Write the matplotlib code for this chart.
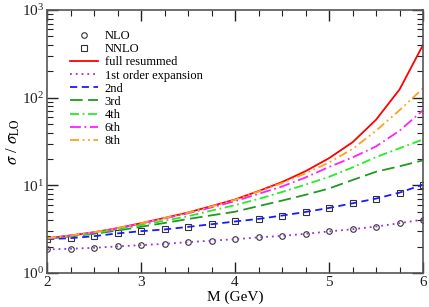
import matplotlib
matplotlib.use("Agg")
import matplotlib.pyplot as plt
import numpy as np
from matplotlib.ticker import LogLocator, MultipleLocator, NullFormatter

plt.rcParams["font.family"] = ["Liberation Serif", "DejaVu Serif"]
plt.rcParams["mathtext.fontset"] = "stix"

# invariant mass grid (GeV)
mass = [2.0, 2.25, 2.5, 2.75, 3.0, 3.25, 3.5, 3.75, 4.0,
        4.25, 4.5, 4.75, 5.0, 5.25, 5.5, 5.75, 6.0]

nlo = [1.86, 1.89, 1.94, 2.01, 2.08, 2.15, 2.25, 2.34, 2.43,
       2.55, 2.65, 2.80, 2.98, 3.16, 3.39, 3.70, 4.07]
nnlo = [2.43, 2.50, 2.63, 2.83, 3.00, 3.14, 3.36, 3.60, 3.87,
        4.14, 4.52, 4.97, 5.52, 6.24, 7.06, 8.26, 10.2]
full = [2.49, 2.68, 2.92, 3.25, 3.70, 4.25, 4.90, 5.80, 6.90,
        8.60, 10.9, 14.5, 20.4, 31.0, 56.0, 124.0, 400.0]
first = nlo
second = nnlo
third = [2.46, 2.62, 2.80, 3.05, 3.37, 3.72, 4.13, 4.55, 5.00,
         5.80, 6.70, 7.80, 9.20, 11.5, 14.3, 16.5, 19.3]
fourth = [2.47, 2.65, 2.86, 3.15, 3.52, 3.95, 4.45, 5.15, 5.95,
          7.00, 8.40, 10.2, 12.5, 16.0, 21.0, 26.5, 33.4]
sixth = [2.48, 2.67, 2.90, 3.22, 3.66, 4.18, 4.80, 5.60, 6.60,
         8.00, 9.70, 12.3, 16.2, 20.8, 27.8, 42.0, 72.0]
eighth = [2.49, 2.68, 2.92, 3.25, 3.70, 4.24, 4.88, 5.75, 6.85,
          8.50, 10.6, 13.7, 18.2, 26.0, 42.0, 72.0, 128.0]

fig = plt.figure(figsize=(4.29, 3.07), dpi=100)
ax = fig.add_axes([0.1096, 0.1107, 0.8765, 0.8567])

ax.plot(mass, nlo, ls="none", marker="o", ms=4, mfc="none", mec="#333333", mew=0.8, label="NLO")
ax.plot(mass, nnlo, ls="none", marker="s", ms=3.8, mfc="none", mec="#333333", mew=0.8, label="NNLO")
ax.plot(mass, full, color="#ff0000", lw=1.3, label="full resummed")
ax.plot(mass, first, color="#9a30e0", lw=1.3, ls=(0, (1, 2.2)), label="1st order expansion")
ax.plot(mass, second, color="#1a1aff", lw=1.3, ls=(0, (4, 2.5)), label="2nd")
ax.plot(mass, third, color="#1f9a1f", lw=1.3, ls=(0, (7, 3)), label="3rd")
ax.plot(mass, fourth, color="#22ee22", lw=1.3, ls=(0, (5, 2, 1, 2)), label="4th")
ax.plot(mass, sixth, color="#ff20ff", lw=1.3, ls=(0, (6, 2, 1, 2)), label="6th")
ax.plot(mass, eighth, color="#ffa020", lw=1.3, ls=(0, (5, 2, 1, 2, 1, 2)), label="8th")

ax.set_yscale("log")
ax.set_xlim(2, 6)
ax.set_ylim(1, 1000)
ax.xaxis.set_major_locator(MultipleLocator(1))
ax.xaxis.set_minor_locator(MultipleLocator(0.25))
ax.yaxis.set_major_locator(LogLocator(base=10))
ax.yaxis.set_minor_locator(LogLocator(base=10, subs=np.arange(2, 10)))
ax.yaxis.set_minor_formatter(NullFormatter())
ax.tick_params(which="both", direction="in", top=True, right=True, labelsize=11, colors="#222222")
ax.tick_params(which="major", length=8, width=1)
ax.tick_params(which="minor", length=4.5, width=0.8)
ax.tick_params(axis="x", pad=2)
ax.tick_params(axis="y", pad=2)
for spine in ax.spines.values():
    spine.set_color("#555555")
    spine.set_linewidth(1.2)

ax.set_xlabel("M (GeV)", fontsize=11, labelpad=1)
ax.set_ylabel(r"$\sigma$ / $\sigma_{\rm LO}$", fontsize=12, labelpad=0)

ax.legend(loc="upper left", bbox_to_anchor=(0.057, 0.928), frameon=False, fontsize=9,
          labelspacing=0.09, handlelength=2.3, handletextpad=0.5, borderpad=0.1,
          borderaxespad=0)

fig.savefig("out.png", dpi=100)
